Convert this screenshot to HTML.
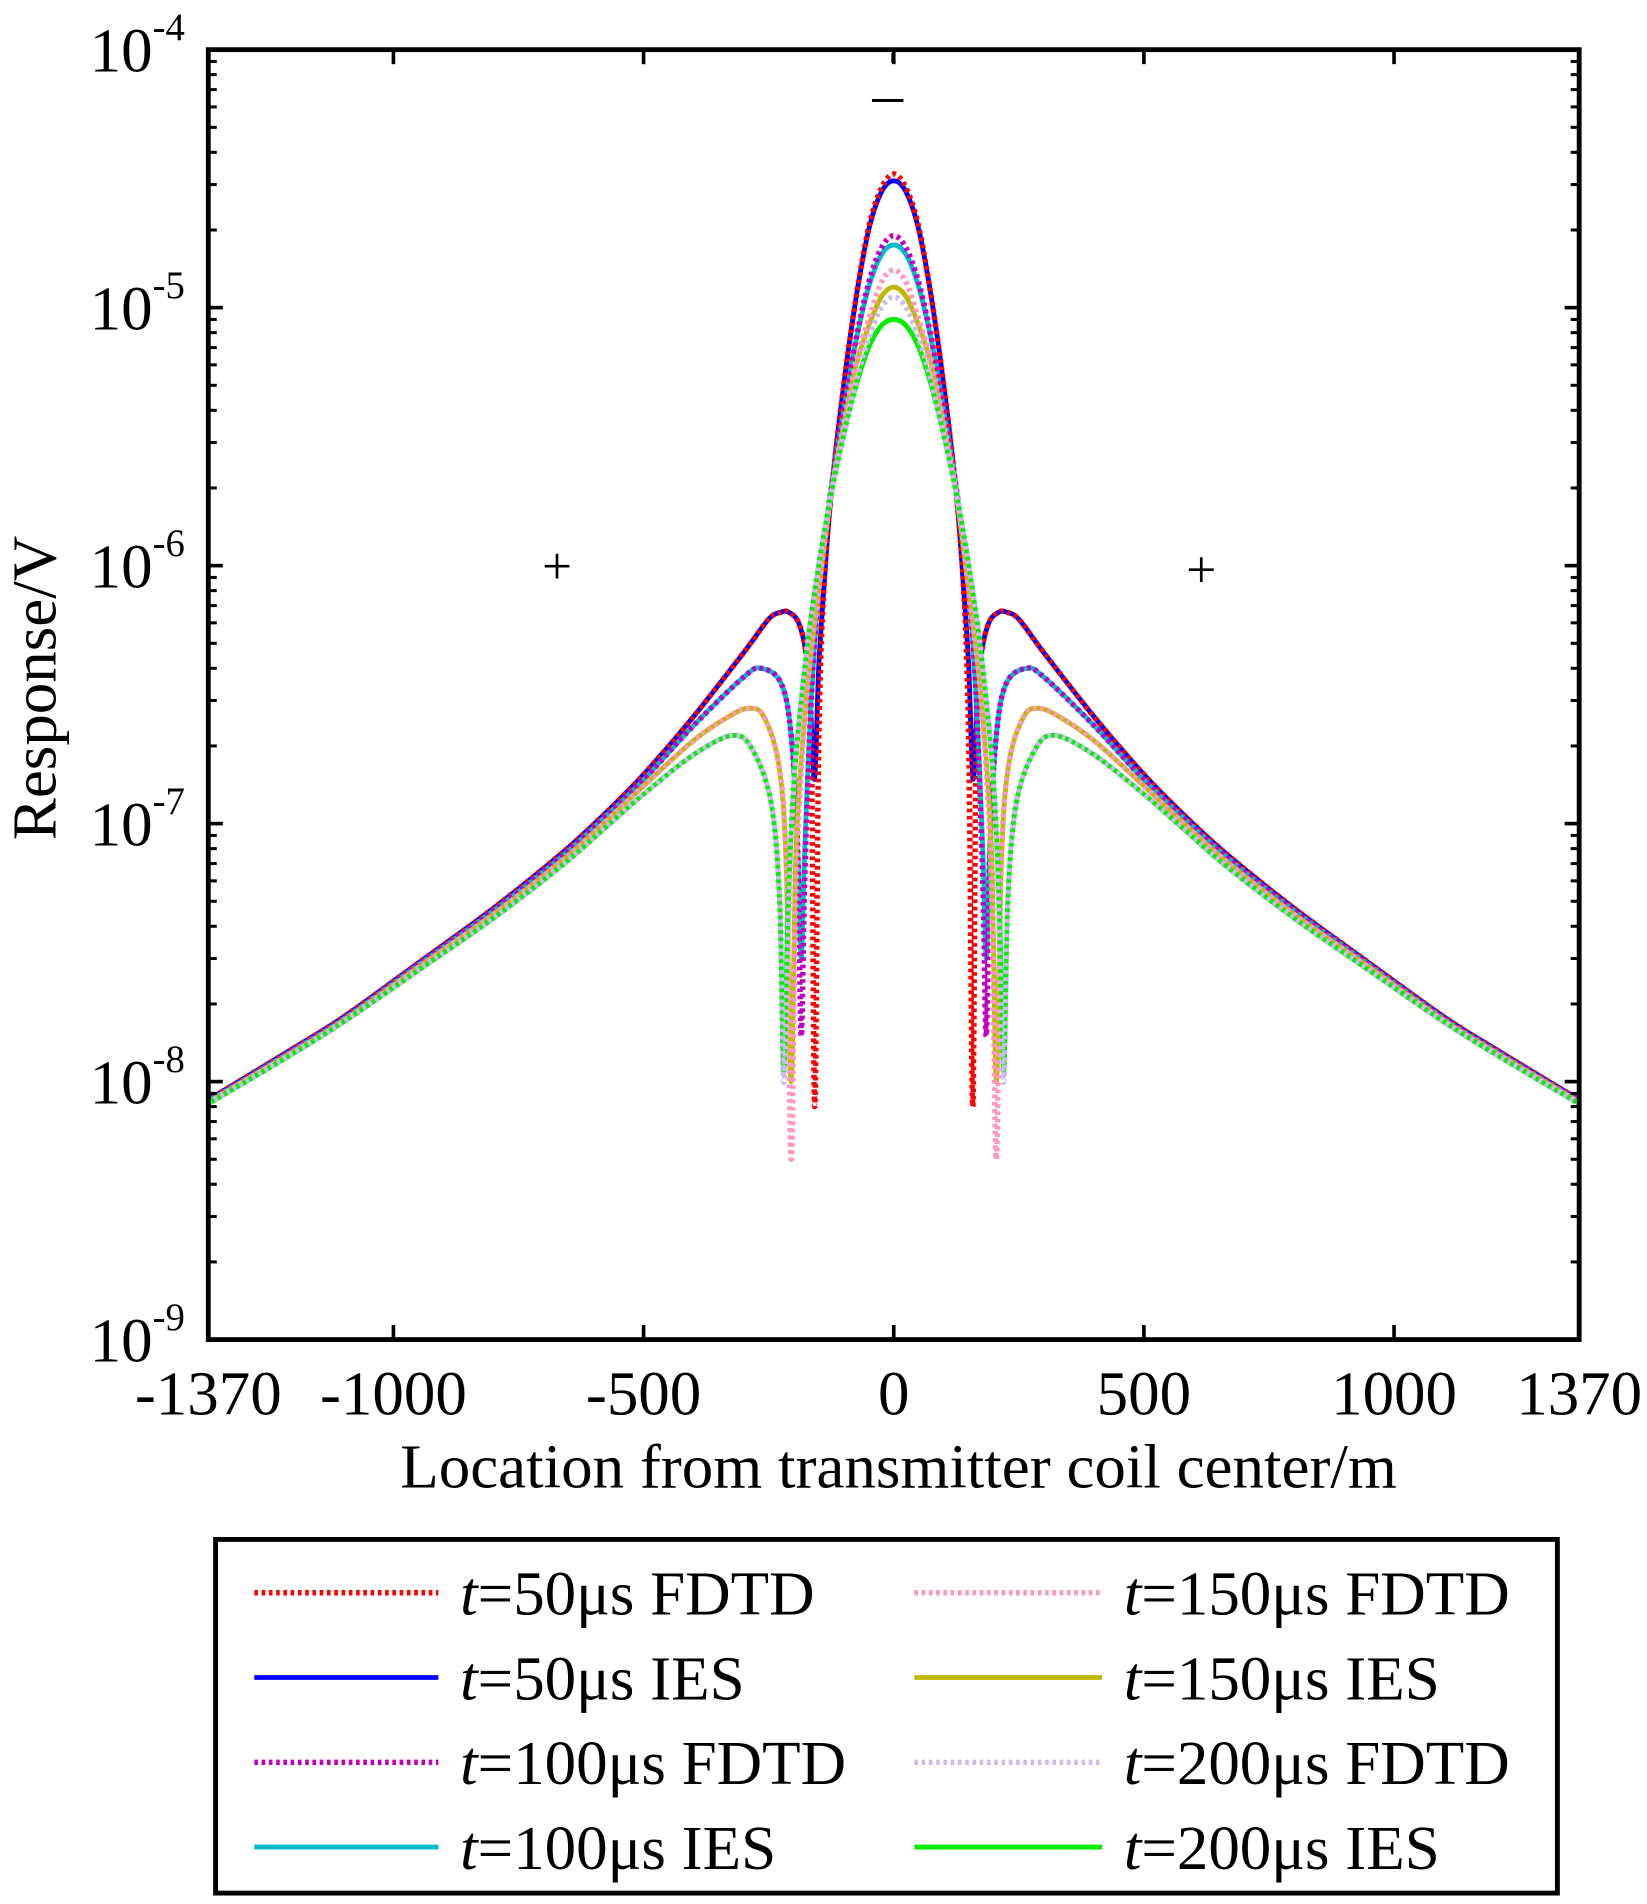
<!DOCTYPE html>
<html><head><meta charset="utf-8"><style>
html,body{margin:0;padding:0;background:#fff}
svg{display:block}
text{font-family:"Liberation Serif",serif;fill:#000}
</style></head><body>
<svg id="chart" width="1647" height="1904" viewBox="0 0 1360 1572" preserveAspectRatio="none" xmlns="http://www.w3.org/2000/svg">
<g id="plot"></g>
<g id="axes"></g>
<g id="legend"></g>
</svg>
<script>
// ---- data (right half, x in m; curves are symmetric about 0) ----
const xTickValues=[-1370,-1000,-500,0,500,1000,1370];
const xTickLabels=["-1370","-1000","-500","0","500","1000","1370"];
const yDecades=[-9,-8,-7,-6,-5,-4];
const x50=[0,25,50,75,100,125,140,150,158,165,175,190,210,225,250,300,400,500,580,666,800,938,1100,1207,1370];
const ies50=[3.1e-5,2.8e-5,2.0e-5,1.1e-5,5e-6,1.9e-6,8e-7,4e-7,1.5e-7,2.5e-7,4.5e-7,6e-7,6.6e-7,6.6e-7,6.2e-7,4.6e-7,2.6e-7,1.55e-7,1.08e-7,7.6e-8,4.7e-8,3e-8,1.78e-8,1.32e-8,8.5e-9];
const fdtd50=[3.3e-5,2.9e-5,2.05e-5,1.1e-5,5e-6,1.9e-6,8e-7,2e-7,8e-9,2.5e-7,4.5e-7,6e-7,6.6e-7,6.6e-7,6.2e-7,4.6e-7,2.6e-7,1.55e-7,1.08e-7,7.6e-8,4.7e-8,3e-8,1.78e-8,1.32e-8,8.5e-9];
const x100=[0,25,50,75,100,125,150,165,178,185,192,205,225,265,300,400,500,580,666,800,938,1100,1207,1370];
const ies100=[1.75e-5,1.6e-5,1.2e-5,7.5e-6,4e-6,2e-6,8e-7,3e-7,8e-8,3e-8,8e-8,2.2e-7,3.5e-7,4e-7,3.7e-7,2.4e-7,1.48e-7,1.05e-7,7.4e-8,4.6e-8,2.95e-8,1.75e-8,1.3e-8,8.4e-9];
const fdtd100=[1.9e-5,1.7e-5,1.25e-5,7.6e-6,4e-6,2e-6,8e-7,3e-7,6e-8,1.5e-8,8e-8,2.2e-7,3.5e-7,4e-7,3.7e-7,2.4e-7,1.48e-7,1.05e-7,7.4e-8,4.6e-8,2.95e-8,1.75e-8,1.3e-8,8.4e-9];
const x150=[0,25,50,75,100,125,150,175,195,205,215,230,260,290,330,400,500,580,666,800,938,1100,1207,1370];
const ies150=[1.2e-5,1.1e-5,8.5e-6,6e-6,3.5e-6,1.9e-6,8e-7,3e-7,8e-8,1e-8,7e-8,1.7e-7,2.6e-7,2.8e-7,2.6e-7,2.1e-7,1.4e-7,1.0e-7,7.1e-8,4.45e-8,2.88e-8,1.72e-8,1.28e-8,8.3e-9];
const fdtd150=[1.4e-5,1.25e-5,9e-6,6.2e-6,3.5e-6,1.9e-6,8e-7,3e-7,6e-8,5e-9,7e-8,1.7e-7,2.6e-7,2.8e-7,2.6e-7,2.1e-7,1.4e-7,1.0e-7,7.1e-8,4.45e-8,2.88e-8,1.72e-8,1.28e-8,8.3e-9];
const x200=[0,25,50,75,100,125,150,175,200,212,220,228,245,280,320,400,500,580,666,800,938,1100,1207,1370];
const ies200=[9e-6,8.5e-6,7e-6,5e-6,3.2e-6,1.9e-6,1e-6,4.5e-7,1.4e-7,4e-8,1.1e-8,5e-8,1.2e-7,1.9e-7,2.2e-7,1.85e-7,1.3e-7,9.5e-8,6.8e-8,4.3e-8,2.8e-8,1.7e-8,1.26e-8,8.2e-9];
const fdtd200=[1.1e-5,1.0e-5,7.6e-6,5.2e-6,3.2e-6,1.9e-6,1e-6,4.5e-7,1.4e-7,3e-8,1e-8,5e-8,1.2e-7,1.9e-7,2.2e-7,1.85e-7,1.3e-7,9.5e-8,6.8e-8,4.3e-8,2.8e-8,1.7e-8,1.26e-8,8.2e-9];

const NS="http://www.w3.org/2000/svg";
const L=172,R=1304,T=41,B=1106;
function sx(v){return L+(v+1370)/2740*(R-L);}
function sy(v){return B-(Math.log10(v)+9)/5*(B-T);}
function mk(tag,attrs,parent){const e=document.createElementNS(NS,tag);for(const k in attrs)e.setAttribute(k,attrs[k]);parent.appendChild(e);return e;}
function smooth(p){
  let d="M"+p[0][0].toFixed(1)+","+p[0][1].toFixed(1);
  for(let i=0;i<p.length-1;i++){
    const p0=p[i-1]||p[i],p1=p[i],p2=p[i+1],p3=p[i+2]||p[i+1];
    const c1=[p1[0]+(p2[0]-p0[0])/6,p1[1]+(p2[1]-p0[1])/6];
    const c2=[p2[0]-(p3[0]-p1[0])/6,p2[1]-(p3[1]-p1[1])/6];
    d+=" C"+c1[0].toFixed(1)+","+c1[1].toFixed(1)+" "+c2[0].toFixed(1)+","+c2[1].toFixed(1)+" "+p2[0].toFixed(1)+","+p2[1].toFixed(1);
  }
  return d;
}
const plot=document.getElementById('plot'),axes=document.getElementById('axes'),legend=document.getElementById('legend');

const series=[
 {xs:x50,v:ies50,c:"#0000ff",d:null,n:"t50-ies"},
 {xs:x50,v:fdtd50,c:"#ff0000",d:"3 3",n:"t50-fdtd"},
 {xs:x100,v:ies100,c:"#00bcc8",d:null,n:"t100-ies"},
 {xs:x100,v:fdtd100,c:"#c000c0",d:"3 3",n:"t100-fdtd"},
 {xs:x150,v:ies150,c:"#c0b800",d:null,n:"t150-ies"},
 {xs:x150,v:fdtd150,c:"#ff99bb",d:"3 3",n:"t150-fdtd"},
 {xs:x200,v:ies200,c:"#00ee00",d:null,n:"t200-ies"},
 {xs:x200,v:fdtd200,c:"#ccbbee",d:"3 3",n:"t200-fdtd"}
];
series.forEach(s=>{
  const pts=[];
  for(let i=s.xs.length-1;i>=0;i--)pts.push([sx(-s.xs[i]),sy(s.v[i])]);
  for(let i=1;i<s.xs.length;i++)pts.push([sx(s.xs[i]),sy(s.v[i])]);
  const a={d:smooth(pts),fill:"none",stroke:s.c,"stroke-width":s.d?4.5:4,"stroke-linejoin":"round"};
  if(s.d)a["stroke-dasharray"]=s.d;
  const p=mk('path',a,plot);
  
  
});

const fr=mk('rect',{x:L,y:T,width:R-L,height:B-T,fill:"none",stroke:"#000","stroke-width":4},axes);


xTickValues.forEach((v,i)=>{
  const x=sx(v);
  mk('line',{x1:x,y1:B,x2:x,y2:B-12,stroke:"#000","stroke-width":3},axes);
  mk('line',{x1:x,y1:T,x2:x,y2:T+12,stroke:"#000","stroke-width":3},axes);
  const t=mk('text',{x:x,y:B+62,"font-size":52,"text-anchor":"middle"},axes);
  t.textContent=xTickLabels[i];
  
  
});
yDecades.forEach(d=>{
  const y=sy(Math.pow(10,d));
  mk('line',{x1:L,y1:y,x2:L+12,y2:y,stroke:"#000","stroke-width":3},axes);
  mk('line',{x1:R,y1:y,x2:R-12,y2:y,stroke:"#000","stroke-width":3},axes);
  if(d<-4){for(let m=2;m<=9;m++){const ym=sy(m*Math.pow(10,d));
    mk('line',{x1:L,y1:ym,x2:L+7,y2:ym,stroke:"#000","stroke-width":2.5},axes);
    mk('line',{x1:R,y1:ym,x2:R-7,y2:ym,stroke:"#000","stroke-width":2.5},axes);}}
  const t=mk('text',{x:74,y:y+18,"font-size":52},axes);
  t.textContent="10";
  
  
  const s=mk('text',{x:126,y:y-8,"font-size":32},axes);
  s.textContent=String(d);
});
let t=mk('text',{x:742,y:1228,"font-size":52,"text-anchor":"middle"},axes);
t.textContent="Location from transmitter coil center/m";


t=mk('text',{x:0,y:0,"font-size":52,"text-anchor":"middle",transform:"translate(46,568) rotate(-90)"},axes);
t.textContent="Response/V";


t=mk('text',{x:460,y:482,"font-size":44,"text-anchor":"middle"},axes);t.textContent="+";


t=mk('text',{x:992,y:485,"font-size":44,"text-anchor":"middle"},axes);t.textContent="+";


mk('line',{x1:720,y1:83,x2:746,y2:83,stroke:"#000","stroke-width":2.5},axes);
mk('line',{x1:737,y1:44,x2:737,y2:52,stroke:"#000","stroke-width":2},axes);

const lb=mk('rect',{x:178,y:1271,width:1108,height:292,fill:"#fff",stroke:"#000","stroke-width":4},legend);


const legOrder=[[1,"50","FDTD"],[0,"50","IES"],[3,"100","FDTD"],[2,"100","IES"],[5,"150","FDTD"],[4,"150","IES"],[7,"200","FDTD"],[6,"200","IES"]];
legOrder.forEach((e,i)=>{
  const col=i<4?0:1,row=i%4;
  const y=1315+row*70;
  const x0=col?755:210,x1=col?910:362,tx=col?928:380;
  const s=series[e[0]];
  const a={x1:x0,y1:y,x2:x1,y2:y,stroke:s.c,"stroke-width":s.d?4.5:4};
  if(s.d)a["stroke-dasharray"]=s.d;
  const g=mk('g',{},legend);
  
  
  mk('line',a,g);
  const tt=mk('text',{x:tx,y:y+18,"font-size":52},g);
  const it=mk('tspan',{"font-style":"italic"},tt);it.textContent="t";
  const rest=mk('tspan',{},tt);rest.textContent="="+e[1]+"\u03bcs "+e[2];
});
</script>
</body></html>
